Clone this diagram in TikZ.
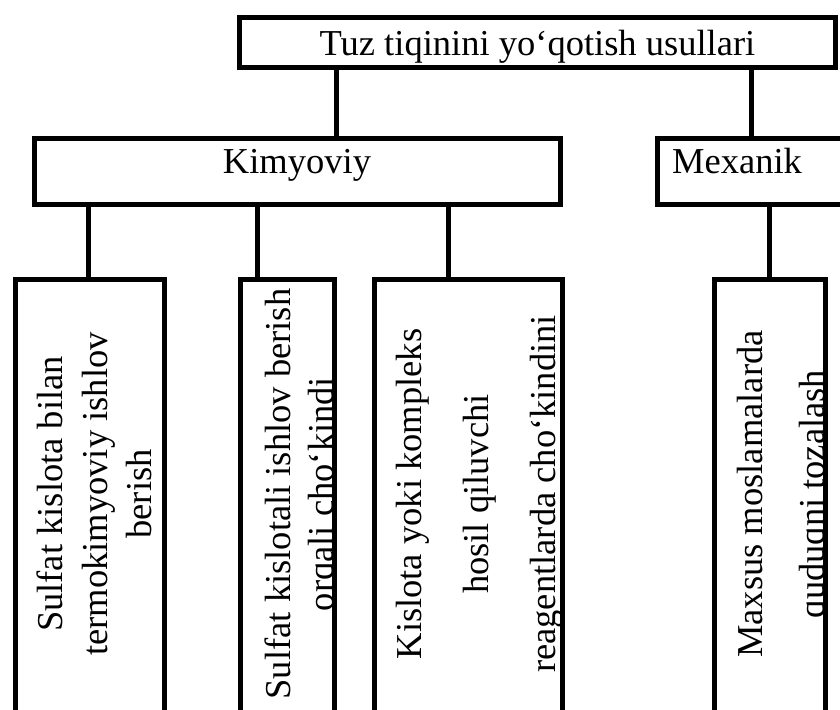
\documentclass[tikz,border=0pt]{standalone}
\usepackage{fontspec}
\setmainfont{Liberation Serif}
\begin{document}
\begin{tikzpicture}[x=1pt,y=-1pt,
  box/.style={draw, line width=5pt, inner sep=0pt, outer sep=0pt},
  conn/.style={line width=5pt},
  lbl/.style={inner sep=0pt, font=\fontsize{36.5}{44}\selectfont},
  vlbl/.style={inner sep=0pt, rotate=90, anchor=north, align=center}
]
\useasboundingbox (0,0) rectangle (840,709);
\clip (0,0) rectangle (840,709);
\fill[white] (0,0) rectangle (840,709);

% boxes
\node[box, minimum width=596pt, minimum height=50pt] (top) at (537.5,42.5) {};
\node[box, minimum width=526pt, minimum height=66pt] (kim) at (297.5,171.5) {};
\node[box, minimum width=262.5pt, minimum height=66pt] (mex) at (788.75,171.5) {};
\node[box, minimum width=149pt, minimum height=450.5pt] (b1) at (90,504.75) {};
\node[box, minimum width=94pt, minimum height=450.5pt] (b2) at (287.5,504.75) {};
\node[box, minimum width=188pt, minimum height=450.5pt] (b3) at (468.5,504.75) {};
\node[box, minimum width=111pt, minimum height=450.5pt] (b4) at (770,504.75) {};

% connector columns
\coordinate (c1) at (336,0);
\coordinate (c2) at (751,0);
\coordinate (c3) at (88,0);
\coordinate (c4) at (257,0);
\coordinate (c5) at (448,0);
\coordinate (c6) at (769,0);

\draw[conn] (top.south -| c1) -- (kim.north -| c1);
\draw[conn] (top.south -| c2) -- (mex.north -| c2);
\draw[conn] (kim.south -| c3) -- (b1.north -| c3);
\draw[conn] (kim.south -| c4) -- (b2.north -| c4);
\draw[conn] (kim.south -| c5) -- (b3.north -| c5);
\draw[conn] (mex.south -| c6) -- (b4.north -| c6);

% horizontal labels
\node[lbl, anchor=base] (ttop) at (537.5,56) {Tuz tiqinini yo‘qotish usullari};
\node[lbl, anchor=base] (tkim) at (297,173) {Kimyoviy};
\node[lbl, anchor=base west] (tmex) at (672,173) {Mexanik};

% vertical labels, clipped to their boxes
\begin{scope}
\clip (b1.north west) rectangle (b1.south east);
\node[vlbl, font=\fontsize{36.5}{44.5}\selectfont] (t1) at (37,494)
  {Sulfat kislota bilan\\termokimyoviy ishlov\\berish};
\end{scope}
\begin{scope}
\clip (b2.north west) rectangle (b2.south east);
\node[vlbl, font=\fontsize{36.5}{43}\selectfont] (t2) at (265,494)
  {Sulfat kislotali ishlov berish\\orqali cho‘kindi};
\end{scope}
\begin{scope}
\clip (b3.north west) rectangle (b3.south east);
\node[vlbl, font=\fontsize{36.5}{67}\selectfont] (t3) at (396,494)
  {Kislota yoki kompleks\\hosil qiluvchi\\reagentlarda cho‘kindini};
\end{scope}
\begin{scope}
\clip (b4.north west) rectangle (b4.south east);
\node[vlbl, font=\fontsize{36.5}{62}\selectfont] (t4) at (737,494)
  {Maxsus moslamalarda\\quduqni tozalash};
\end{scope}
\end{tikzpicture}
\end{document}
